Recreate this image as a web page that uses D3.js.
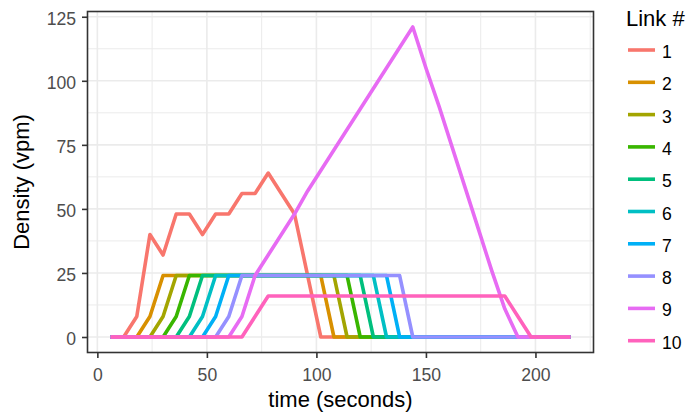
<!DOCTYPE html>
<html>
<head>
<meta charset="utf-8">
<script src="https://cdn.jsdelivr.net/npm/d3@7"></script>
<style>
  body { margin: 0; background: #fff; }
  text { font-family: "Liberation Sans", Arial, sans-serif; }
</style>
</head>
<body>
<svg width="687" height="418"></svg>
<script>
// time stamps (seconds)
var times = [6, 12, 18, 24, 30, 36, 42, 48, 54, 60, 66, 72, 78, 84, 90, 96, 102, 108,
    114, 120, 126, 132, 138, 144, 150, 156, 162, 168, 174, 180, 186, 192, 198, 204, 210, 216];

// density (vpm) per link, one value per time stamp
var link1 = [0, 0, 8, 40, 32, 48, 48, 40, 48, 48, 56, 56, 64, 56, 48, 24, 0, 0,
    0, 0, 0, 0, 0, 0, 0, 0, 0, 0, 0, 0, 0, 0, 0, 0, 0, 0];
var link2 = [0, 0, 0, 8, 24, 24, 24, 24, 24, 24, 24, 24, 24, 24, 24, 24, 24, 0,
    0, 0, 0, 0, 0, 0, 0, 0, 0, 0, 0, 0, 0, 0, 0, 0, 0, 0];
var link3 = [0, 0, 0, 0, 8, 24, 24, 24, 24, 24, 24, 24, 24, 24, 24, 24, 24, 24,
    0, 0, 0, 0, 0, 0, 0, 0, 0, 0, 0, 0, 0, 0, 0, 0, 0, 0];
var link4 = [0, 0, 0, 0, 0, 8, 24, 24, 24, 24, 24, 24, 24, 24, 24, 24, 24, 24,
    24, 0, 0, 0, 0, 0, 0, 0, 0, 0, 0, 0, 0, 0, 0, 0, 0, 0];
var link5 = [0, 0, 0, 0, 0, 0, 8, 24, 24, 24, 24, 24, 24, 24, 24, 24, 24, 24,
    24, 24, 0, 0, 0, 0, 0, 0, 0, 0, 0, 0, 0, 0, 0, 0, 0, 0];
var link6 = [0, 0, 0, 0, 0, 0, 0, 8, 24, 24, 24, 24, 24, 24, 24, 24, 24, 24,
    24, 24, 24, 0, 0, 0, 0, 0, 0, 0, 0, 0, 0, 0, 0, 0, 0, 0];
var link7 = [0, 0, 0, 0, 0, 0, 0, 0, 8, 24, 24, 24, 24, 24, 24, 24, 24, 24,
    24, 24, 24, 24, 0, 0, 0, 0, 0, 0, 0, 0, 0, 0, 0, 0, 0, 0];
var link8 = [0, 0, 0, 0, 0, 0, 0, 0, 0, 8, 24, 24, 24, 24, 24, 24, 24, 24,
    24, 24, 24, 24, 24, 0, 0, 0, 0, 0, 0, 0, 0, 0, 0, 0, 0, 0];
var link9 = [0, 0, 0, 0, 0, 0, 0, 0, 0, 0, 8, 24, 32, 40, 48, 57, 65, 73,
    81, 89, 97, 105, 113, 121, 105, 90, 74, 58, 42, 26, 11, 0, 0, 0, 0, 0];
var link10 = [0, 0, 0, 0, 0, 0, 0, 0, 0, 0, 0, 8, 16, 16, 16, 16, 16, 16,
    16, 16, 16, 16, 16, 16, 16, 16, 16, 16, 16, 16, 16, 8, 0, 0, 0, 0];

var linkNames = ["1", "2", "3", "4", "5", "6", "7", "8", "9", "10"];
var linkValues = [link1, link2, link3, link4, link5, link6, link7, link8, link9, link10];
var xTicks = [0, 50, 100, 150, 200];
var yTicks = [0, 25, 50, 75, 100, 125];

var colors = ["#F8766D", "#D89000", "#A3A500", "#39B600", "#00BF7D",
    "#00BFC4", "#00B0F6", "#9590FF", "#E76BF3", "#FF62BC"];

var svg = d3.select("svg");
var pLeft = 87.5, pRight = 593.5, pTop = 11.5, pBottom = 352.5;

var series = linkNames.map(function (name, i) {
    return {
        name: name,
        color: colors[i],
        points: times.map(function (t, j) { return { t: t, v: linkValues[i][j] }; })
    };
});

// ggplot style 5% expansion
var xExt = d3.extent(times);
var yMax = d3.max(linkValues, function (a) { return d3.max(a); });
var xPad = (xExt[1] - xExt[0]) * 0.05, yPad = yMax * 0.05;
var x = d3.scaleLinear().domain([xExt[0] - xPad, xExt[1] + xPad]).range([pLeft, pRight]);
var y = d3.scaleLinear().domain([-yPad, yMax + yPad]).range([pBottom, pTop]);

// grid
var grid = svg.append("g");
grid.selectAll(".xminor").data([25, 75, 125, 175, 225]).enter().append("line")
    .attr("x1", x).attr("x2", x).attr("y1", pTop).attr("y2", pBottom)
    .attr("stroke", "#EBEBEB").attr("stroke-width", 1);
grid.selectAll(".yminor").data([12.5, 37.5, 62.5, 87.5, 112.5]).enter().append("line")
    .attr("y1", y).attr("y2", y).attr("x1", pLeft).attr("x2", pRight)
    .attr("stroke", "#EBEBEB").attr("stroke-width", 1);
grid.selectAll(".xmajor").data(xTicks).enter().append("line")
    .attr("x1", x).attr("x2", x).attr("y1", pTop).attr("y2", pBottom)
    .attr("stroke", "#EBEBEB").attr("stroke-width", 1.6);
grid.selectAll(".ymajor").data(yTicks).enter().append("line")
    .attr("y1", y).attr("y2", y).attr("x1", pLeft).attr("x2", pRight)
    .attr("stroke", "#EBEBEB").attr("stroke-width", 1.6);

svg.append("clipPath").attr("id", "panel").append("rect")
    .attr("x", pLeft).attr("y", pTop).attr("width", pRight - pLeft).attr("height", pBottom - pTop);

var line = d3.line()
    .x(function (d) { return x(d.t); })
    .y(function (d) { return y(d.v); });

svg.append("g").attr("clip-path", "url(#panel)")
    .selectAll("path")
    .data(series)
    .enter().append("path")
    .attr("d", function (d) { return line(d.points); })
    .attr("fill", "none")
    .attr("stroke", function (d) { return d.color; })
    .attr("stroke-width", 3.6)
    .attr("stroke-linejoin", "round");

// panel border
svg.append("rect")
    .attr("x", pLeft).attr("y", pTop).attr("width", pRight - pLeft).attr("height", pBottom - pTop)
    .attr("fill", "none").attr("stroke", "#333333").attr("stroke-width", 1.6);

// axes
var xAxis = svg.append("g")
    .attr("transform", "translate(0," + pBottom + ")")
    .call(d3.axisBottom(x).tickValues(xTicks).tickSize(5.5).tickPadding(6));
var yAxis = svg.append("g")
    .attr("transform", "translate(" + pLeft + ",0)")
    .call(d3.axisLeft(y).tickValues(yTicks).tickSize(5.5).tickPadding(6));

[xAxis, yAxis].forEach(function (a) {
    a.select(".domain").remove();
    a.selectAll(".tick line").attr("stroke", "#333333").attr("stroke-width", 1.6);
    a.selectAll(".tick text")
        .attr("fill", "#4D4D4D")
        .style("font-size", "17.6px")
        .style("font-family", "'Liberation Sans', Arial, sans-serif");
});
xAxis.selectAll(".tick text").attr("dy", "0.95em");
yAxis.selectAll(".tick text").attr("dy", "0.45em");

// axis titles
svg.append("text")
    .attr("x", (pLeft + pRight) / 2).attr("y", 407)
    .attr("text-anchor", "middle")
    .style("font-size", "22px")
    .text("time (seconds)");

svg.append("text")
    .attr("transform", "translate(29," + (pTop + pBottom) / 2 + ") rotate(-90)")
    .attr("text-anchor", "middle")
    .style("font-size", "22px")
    .text("Density (vpm)");

// legend
var legend = svg.append("g");
legend.append("text")
    .attr("x", 626).attr("y", 26)
    .style("font-size", "22px")
    .text("Link #");

var key = legend.selectAll(".key")
    .data(series)
    .enter().append("g")
    .attr("transform", function (d, i) { return "translate(0," + (50 + i * 32.3) + ")"; });

key.append("line")
    .attr("x1", 628).attr("x2", 655)
    .attr("stroke", function (d) { return d.color; })
    .attr("stroke-width", 3.6);

key.append("text")
    .attr("x", 662).attr("y", 8)
    .style("font-size", "17.6px")
    .text(function (d) { return d.name; });
</script>
</body>
</html>
